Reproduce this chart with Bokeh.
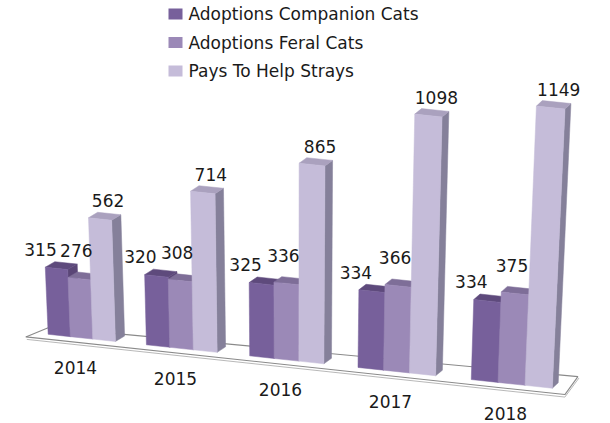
import numpy as np
from bokeh.plotting import figure
from bokeh.models import Range1d, ColumnDataSource
from bokeh.core.properties import value
from bokeh.embed import file_html
from bokeh.resources import INLINE

# ---------------- data ----------------
years = ["2014", "2015", "2016", "2017", "2018"]
series_names = ["Adoptions Companion Cats", "Adoptions Feral Cats", "Pays To Help Strays"]
companion = [315, 320, 325, 334, 334]
feral = [276, 308, 336, 366, 375]
pays = [562, 714, 865, 1098, 1149]
series_values = [companion, feral, pays]

# ---------------- style ----------------
front_colors = ["#77609b", "#9b89b7", "#c5bcd9"]
top_colors = ["#5e4a7c", "#7e6e98", "#aaa1be"]
side_colors = ["#5a4676", "#786a92", "#85809a"]
FONT = value("DejaVu Sans")
BAR_W = 0.23
label_offsets = [(-16, -19), (-3, -28), (8, -18)]

W, H = 610, 423


# ---------------- 3D-like projection (screen units) ----------------
def sx(u):
    return 81 + 97.5 * u + 2.5 * u * u


def base_y(x):
    return 335 + 0.107 * (x - 59)


def kscale(x):
    return 0.213 + 6.26e-5 * (x - 59)


def lean(x):
    return 1.75e-4 * (x - 292)


def depth(x):
    return (9.5 - 0.0075 * (x - 59), -5.5)


def floor_depth(x):
    t = (x - 25) / 541.0
    return (23 - 10 * t, -9.5 - 8.5 * t)


p = figure(width=W, height=H, output_backend="svg", toolbar_location=None,
           x_range=Range1d(0, W), y_range=Range1d(H, 0),
           min_border=0, min_border_left=0, min_border_right=0,
           min_border_top=0, min_border_bottom=0)
p.axis.visible = False
p.grid.visible = False
p.outline_line_color = None
p.background_fill_color = "white"
p.border_fill_color = "white"

# ---------------- floor ----------------
u_a, u_b = -0.58, 4.45
xa, xb = sx(u_a), sx(u_b)
fl = (xa, base_y(xa) + 5)
fr = (xb, base_y(xb) + 5)
dl = floor_depth(xa)
dr = floor_depth(xb)
bl = (fl[0] + dl[0], fl[1] + dl[1])
br = (fr[0] + dr[0], fr[1] + dr[1])
p.patch([fl[0], fr[0], br[0], bl[0]], [fl[1], fr[1], br[1], bl[1]],
        fill_color="white", line_color="#8a8a8a", line_width=1.1)
p.line([fl[0] + 1, fr[0], br[0] + 1], [fl[1] + 2.5, fr[1] + 2.5, br[1] + 1.5],
       line_color="#b0b0b0", line_width=0.9)

# ---------------- bars ----------------
xs, ys, cols = [], [], []
lab_x, lab_y, lab_t = [], [], []
for i, yr in enumerate(years):
    for j, vals in enumerate(series_values):
        v = vals[i]
        u0 = i + (j - 1.5) * BAR_W
        u1 = u0 + BAR_W
        xl, xr = sx(u0), sx(u1)
        xc = 0.5 * (xl + xr)
        h = v * kscale(xc)
        BL = (xl, base_y(xl))
        BR = (xr, base_y(xr))
        TL = (xl + lean(xl) * h, base_y(xl) - h)
        TR = (xr + lean(xr) * h, base_y(xr) - h)
        ddx, ddy = depth(xc)
        TLd = (TL[0] + ddx, TL[1] + ddy)
        TRd = (TR[0] + ddx, TR[1] + ddy)
        BRd = (BR[0] + ddx, BR[1] + ddy)
        # side face
        xs.append([BR[0], TR[0], TRd[0], BRd[0]])
        ys.append([BR[1], TR[1], TRd[1], BRd[1]])
        cols.append(side_colors[j])
        # top face
        xs.append([TL[0], TR[0], TRd[0], TLd[0]])
        ys.append([TL[1], TR[1], TRd[1], TLd[1]])
        cols.append(top_colors[j])
        # front face
        xs.append([BL[0], BR[0], TR[0], TL[0]])
        ys.append([BL[1], BR[1], TR[1], TL[1]])
        cols.append(front_colors[j])
        ox, oy = label_offsets[j]
        lab_x.append(0.5 * (TL[0] + TR[0]) + ox)
        lab_y.append(0.5 * (TL[1] + TR[1]) + oy)
        lab_t.append(str(v))

src = ColumnDataSource(dict(xs=xs, ys=ys, c=cols))
p.patches("xs", "ys", source=src, fill_color="c", line_color="c", line_width=0.5)

p.text(x=lab_x, y=lab_y, text=lab_t, text_font=FONT, text_font_size=value("17px"),
       text_align="center", text_baseline="middle", text_color="#1a1a1a")

# ---------------- category labels ----------------
cx = [sx(i) - 6 for i in range(len(years))]
cy = [base_y(sx(i)) + 30 for i in range(len(years))]
p.text(x=cx, y=cy, text=years, text_font=FONT, text_font_size=value("17px"),
       text_align="center", text_baseline="middle", text_color="#1a1a1a")

# ---------------- legend ----------------
leg_x0 = 168
leg_y = [13.5 + 28.5 * k for k in range(len(series_names))]
p.rect(x=[leg_x0 + 7] * 3, y=leg_y, width=14, height=11, fill_color=front_colors,
       line_color=None)
p.text(x=[leg_x0 + 20] * 3, y=leg_y, text=series_names, text_font=FONT,
       text_font_size=value("17px"), text_align="left", text_baseline="middle",
       text_color="#1a1a1a")

open("out.html", "w").write(file_html(p, INLINE))
